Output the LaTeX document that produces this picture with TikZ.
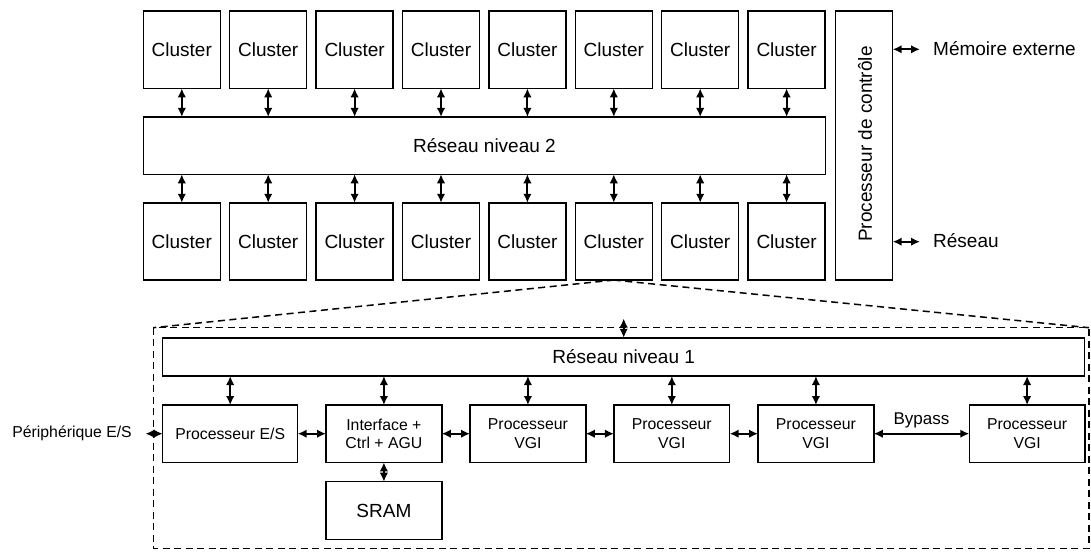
\documentclass[tikz,border=0pt]{standalone}
\usepackage{fontspec}
\setmainfont{Liberation Sans}
\usetikzlibrary{arrows.meta}
\begin{document}
\begin{tikzpicture}[x=1pt,y=-1pt,
  box/.style={draw, line width=1.5pt, inner sep=0pt, outer sep=0pt, align=center, font=\fontsize{19}{22}\selectfont},
  smallbox/.style={box, font=\fontsize{15.8}{18.6}\selectfont},
  cl/.style={box, minimum width=77pt, minimum height=77.3pt},
  vgi/.style={smallbox, minimum width=115.7pt, minimum height=57.3pt},
  arr/.style={line width=2pt, {Latex[length=9pt,width=8.5pt]}-{Latex[length=9pt,width=8.5pt]}},
  dsh/.style={line width=1.5pt, dash pattern=on 7pt off 4.5pt},
  lbl/.style={font=\fontsize{19}{22}\selectfont, inner sep=0pt}
]
\useasboundingbox (0,0) rectangle (1091,551);

% top and bottom clusters
\foreach \i in {1,...,8}{
  \node[cl] (t\i) at ({181.8+86.4*(\i-1)},49.7) {Cluster};
  \node[cl] (b\i) at ({181.8+86.4*(\i-1)},241.4) {Cluster};
}
\node[box, minimum width=682.4pt, minimum height=57.3pt] (r2) at (484.5,145.6) {Réseau niveau 2};
\foreach \i in {1,...,8}{
  \draw[arr] (t\i.south) -- (t\i.south |- r2.north);
  \draw[arr] (r2.south -| b\i.north) -- (b\i.north);
}

% control processor
\node[box, minimum width=57.4pt, minimum height=269pt] (pdc) at (864,145.5) {};
\node[lbl, rotate=90] (pdct) at (865,144) {Processeur de contrôle};
\coordinate (mem) at (920,49.3);
\coordinate (res) at (920,241.7);
\draw[arr] (mem -| pdc.east) -- (mem);
\draw[arr] (res -| pdc.east) -- (res);
\node[lbl, anchor=base west] (memt) at (933,55.5) {Mémoire externe};
\node[lbl, anchor=base west] (rest) at (933,247.7) {Réseau};

% zoom outline
\coordinate (dnw) at (153.3,327.7);
\coordinate (dne) at (1089,327.7);
\coordinate (dse) at (1089,548.3);
\draw[dsh] (dnw) rectangle (dse);
\draw[dsh] (b6.south) -- (dnw);
\draw[dsh] (b6.south) -- (dne);

% level 1
\node[box, minimum width=922pt, minimum height=38.3pt] (r1) at (623.7,356.9) {Réseau niveau 1};
\coordinate (top) at (623.7,318.5);
\draw[arr] (top) -- (r1.north);

\node[smallbox, minimum width=135pt, minimum height=57.3pt] (pes) at (230.2,433.7) {Processeur E/S};
\node[vgi] (ifc) at (383.9,433.7) {Interface +\\Ctrl + AGU};
\node[box, minimum width=115.7pt, minimum height=57.6pt] (sram) at (383.9,510.5) {SRAM};
\node[vgi] (v1) at (527.9,433.7) {Processeur\\VGI};
\node[vgi] (v2) at (671.8,433.7) {Processeur\\VGI};
\node[vgi] (v3) at (815.9,433.7) {Processeur\\VGI};
\node[vgi] (v4) at (1027.1,433.7) {Processeur\\VGI};

\foreach \n in {pes,ifc,v1,v2,v3,v4}{
  \draw[arr] (r1.south -| \n.north) -- (\n.north);
}
\draw[arr] (pes.east) -- (ifc.west);
\draw[arr] (ifc.east) -- (v1.west);
\draw[arr] (v1.east) -- (v2.west);
\draw[arr] (v2.east) -- (v3.west);
\draw[arr] (v3.east) -- (v4.west);
\node[inner sep=0pt, font=\fontsize{17}{20}\selectfont, anchor=base] (byp) at (921.5,424.5) {Bypass};
\draw[arr] (ifc.south) -- (sram.north);

\coordinate (per) at (145.5,433.7);
\draw[arr] (per) -- (pes.west);
\node[inner sep=0pt, font=\fontsize{15.8}{18.6}\selectfont, anchor=east] (pert) at (132,433.7) {Périphérique E/S};
\end{tikzpicture}
\end{document}
